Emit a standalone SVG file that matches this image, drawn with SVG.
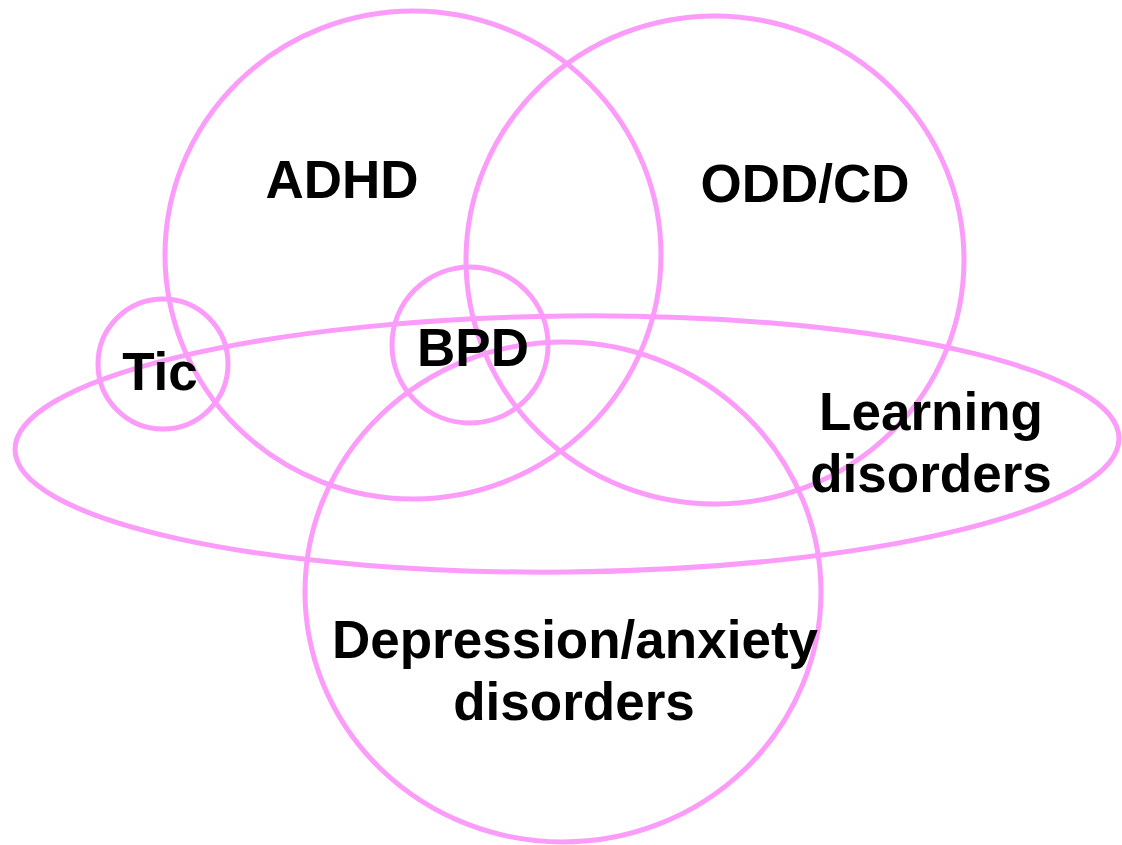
<svg xmlns="http://www.w3.org/2000/svg" width="1122" height="845" viewBox="0 0 1122 845">
<style>
.c{fill:none;stroke:#FB9CFA;stroke-width:5}
.t{font-family:"Liberation Sans",Arial,sans-serif;font-weight:bold;font-size:53px;fill:#000;text-anchor:middle}
</style>
<rect width="1122" height="845" fill="#fff"/>
<g id="adhd"><ellipse class="c" cx="413" cy="255" rx="248" ry="244"/><text class="t" x="342" y="198">ADHD</text></g>
<g id="oddcd"><ellipse class="c" cx="715" cy="260" rx="249" ry="244"/><text class="t" x="805" y="202">ODD/CD</text></g>
<g id="learning"><ellipse class="c" cx="567" cy="444" rx="552" ry="128" transform="rotate(-0.6 567 444)"/><text class="t" x="931" y="430">Learning</text><text class="t" x="931" y="492">disorders</text></g>
<g id="depression"><ellipse class="c" cx="563" cy="592" rx="258" ry="250"/><text class="t" x="575" y="658">Depression/anxiety</text><text class="t" x="574" y="720">disorders</text></g>
<g id="tic"><circle class="c" cx="163" cy="364" r="65"/><text class="t" x="160" y="390">Tic</text></g>
<g id="bpd"><circle class="c" cx="470" cy="345" r="78"/><text class="t" x="473" y="366">BPD</text></g>
<g id="connectors"/>
</svg>
